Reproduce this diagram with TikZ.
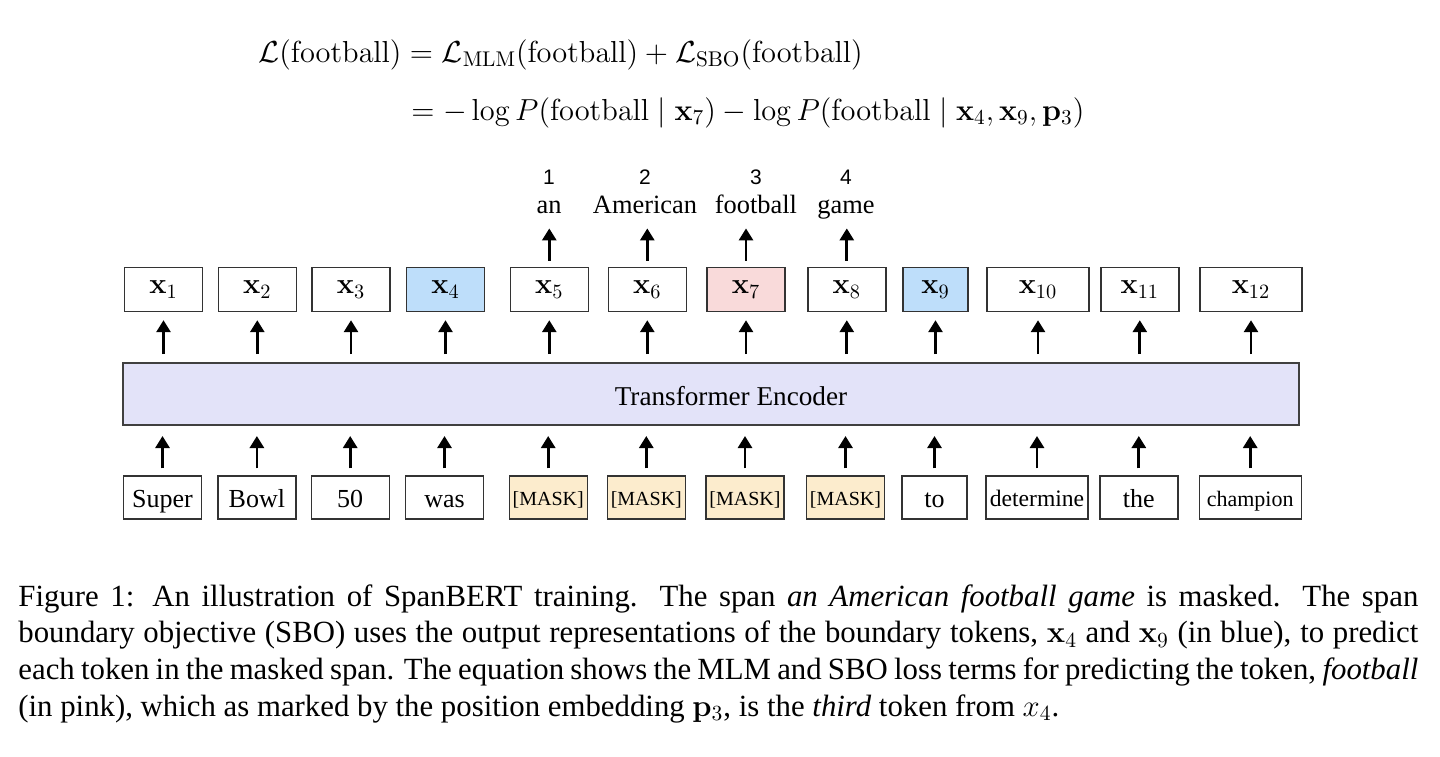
\RequirePackage{fix-cm}
\documentclass[tikz,border=0pt]{standalone}
\usepackage{amsmath}
\usepackage[no-math]{fontspec}
\setmainfont{Liberation Serif}
\newfontfamily\numfont{Liberation Sans}
\usetikzlibrary{arrows.meta,positioning}
\definecolor{bndblue}{RGB}{190,222,250}
\definecolor{tgtpink}{RGB}{249,218,218}
\definecolor{maskfill}{RGB}{252,236,205}
\definecolor{encfill}{RGB}{227,227,249}

\begin{document}
\begin{tikzpicture}[x=0.5pt, y=-0.5pt,
  vec/.style={draw=black!80, line width=0.7pt, minimum width=39pt, minimum height=22pt, inner sep=0pt, font=\fontsize{14.5}{16}\selectfont},
  tok/.style={draw=black!80, line width=0.7pt, minimum width=39pt, minimum height=21.5pt, inner sep=0pt, text height=11pt, text depth=1.5pt, font=\fontsize{13}{15}\selectfont},
  mask/.style={tok, fill=maskfill, text height=9pt, text depth=1.5pt, font=\fontsize{10}{12}\selectfont},
  wrd/.style={font=\fontsize{13.2}{15}\selectfont, inner sep=0pt, text height=9pt, text depth=3pt, anchor=base},
  num/.style={font=\fontsize{10.5}{12}\selectfont\numfont, inner sep=0pt},
  enc/.style={draw=black!75, line width=1pt, fill=encfill, minimum width=588pt, minimum height=31pt, inner sep=0pt},
  arr/.style={-{Triangle[width=7pt,length=6pt]}, line width=1.4pt}]
\useasboundingbox (0,0) rectangle (1440,756);

% loss equation
\node[anchor=base west, inner sep=0pt, font=\fontsize{15.2}{18}\selectfont] (eqtop) at (258,62)
  {$\mathcal{L}(\mathrm{football}) = \mathcal{L}_{\mathrm{MLM}}(\mathrm{football}) + \mathcal{L}_{\mathrm{SBO}}(\mathrm{football})$};
\node[anchor=base west, inner sep=0pt, font=\fontsize{15.2}{18}\selectfont] (eqbot) at (411,120)
  {$=-\log P(\mathrm{football}\mid \mathbf{x}_7) - \log P(\mathrm{football}\mid \mathbf{x}_4, \mathbf{x}_9, \mathbf{p}_3)$};

% predicted span
\node[wrd] (w1) at (549,213) {an};
\node[wrd] (w2) at (645,213) {American};
\node[wrd] (w3) at (756,213) {football};
\node[wrd] (w4) at (846,213) {game};
\node[num, above=5pt of w1] (n1) {1};
\node[num, above=5pt of w2] (n2) {2};
\node[num, above=5pt of w3] (n3) {3};
\node[num, above=5pt of w4] (n4) {4};

% output representations
\node[vec] (x1) at (163.5,289.5) {$\mathbf{x}_{1}$};
\node[vec] (x2) at (257.3,289.5) {$\mathbf{x}_{2}$};
\node[vec] (x3) at (351,289.5) {$\mathbf{x}_{3}$};
\node[vec, fill=bndblue] (x4) at (445.5,289.5) {$\mathbf{x}_{4}$};
\node[vec] (x5) at (549.3,289.5) {$\mathbf{x}_{5}$};
\node[vec] (x6) at (647.3,289.5) {$\mathbf{x}_{6}$};
\node[vec, fill=tgtpink] (x7) at (746,289.5) {$\mathbf{x}_{7}$};
\node[vec] (x8) at (846.8,289.5) {$\mathbf{x}_{8}$};
\node[vec, fill=bndblue, minimum width=32.5pt] (x9) at (935.5,289.5) {$\mathbf{x}_{9}$};
\node[vec, minimum width=51pt] (x10) at (1038,289.5) {$\mathbf{x}_{10}$};
\node[vec] (x11) at (1139.8,289.5) {$\mathbf{x}_{11}$};
\node[vec, minimum width=51pt] (x12) at (1251,289.5) {$\mathbf{x}_{12}$};

% encoder
\node[enc] (enc) at (711,394) {};
\node[font=\fontsize{13.6}{16}\selectfont] (enclab) at (731,396) {Transformer Encoder};

% input tokens
\node[tok] (t1) at (162.5,497.5) {Super};
\node[tok] (t2) at (256.9,497.5) {Bowl};
\node[tok] (t3) at (350.2,497.5) {50};
\node[tok] (t4) at (444.5,497.5) {was};
\node[mask] (t5) at (548.2,497.5) {[MASK]};
\node[mask] (t6) at (646.3,497.5) {[MASK]};
\node[mask] (t7) at (745,497.5) {[MASK]};
\node[mask] (t8) at (845.5,497.5) {[MASK]};
\node[tok, minimum width=32.5pt] (t9) at (934.5,497.5) {to};
\node[tok, minimum width=51pt, text height=10pt, font=\fontsize{11.8}{14}\selectfont] (t10) at (1037,497.5) {determine};
\node[tok] (t11) at (1138.8,497.5) {the};
\node[tok, minimum width=51pt, text height=10pt, font=\fontsize{11}{13}\selectfont] (t12) at (1250.2,497.5) {champion};

% tokens -> encoder
\draw[arr, shorten <=3.5pt, shorten >=5pt] (t1) -- (t1 |- enc.south);
\draw[arr, shorten <=3.5pt, shorten >=5pt] (t2) -- (t2 |- enc.south);
\draw[arr, shorten <=3.5pt, shorten >=5pt] (t3) -- (t3 |- enc.south);
\draw[arr, shorten <=3.5pt, shorten >=5pt] (t4) -- (t4 |- enc.south);
\draw[arr, shorten <=3.5pt, shorten >=5pt] (t5) -- (t5 |- enc.south);
\draw[arr, shorten <=3.5pt, shorten >=5pt] (t6) -- (t6 |- enc.south);
\draw[arr, shorten <=3.5pt, shorten >=5pt] (t7) -- (t7 |- enc.south);
\draw[arr, shorten <=3.5pt, shorten >=5pt] (t8) -- (t8 |- enc.south);
\draw[arr, shorten <=3.5pt, shorten >=5pt] (t9) -- (t9 |- enc.south);
\draw[arr, shorten <=3.5pt, shorten >=5pt] (t10) -- (t10 |- enc.south);
\draw[arr, shorten <=3.5pt, shorten >=5pt] (t11) -- (t11 |- enc.south);
\draw[arr, shorten <=3.5pt, shorten >=5pt] (t12) -- (t12 |- enc.south);

% encoder -> outputs
\draw[arr, shorten <=4pt, shorten >=4pt] (enc.north -| x1) -- (x1);
\draw[arr, shorten <=4pt, shorten >=4pt] (enc.north -| x2) -- (x2);
\draw[arr, shorten <=4pt, shorten >=4pt] (enc.north -| x3) -- (x3);
\draw[arr, shorten <=4pt, shorten >=4pt] (enc.north -| x4) -- (x4);
\draw[arr, shorten <=4pt, shorten >=4pt] (enc.north -| x5) -- (x5);
\draw[arr, shorten <=4pt, shorten >=4pt] (enc.north -| x6) -- (x6);
\draw[arr, shorten <=4pt, shorten >=4pt] (enc.north -| x7) -- (x7);
\draw[arr, shorten <=4pt, shorten >=4pt] (enc.north -| x8) -- (x8);
\draw[arr, shorten <=4pt, shorten >=4pt] (enc.north -| x9) -- (x9);
\draw[arr, shorten <=4pt, shorten >=4pt] (enc.north -| x10) -- (x10);
\draw[arr, shorten <=4pt, shorten >=4pt] (enc.north -| x11) -- (x11);
\draw[arr, shorten <=4pt, shorten >=4pt] (enc.north -| x12) -- (x12);

% outputs -> span words
\draw[arr, shorten <=3pt, shorten >=4.5pt] (x5) -- (x5 |- w1.south);
\draw[arr, shorten <=3pt, shorten >=4.5pt] (x6) -- (x6 |- w2.south);
\draw[arr, shorten <=3pt, shorten >=4.5pt] (x7) -- (x7 |- w3.south);
\draw[arr, shorten <=3pt, shorten >=4.5pt] (x8) -- (x8 |- w4.south);

% caption
\node[anchor=north west, inner sep=0pt, text width=700pt, align=justify, font=\fontsize{15.4}{18.35}\selectfont] (cap) at (18,584)
  {Figure 1: An illustration of SpanBERT training. The span \emph{an American football game} is masked. The span\linebreak
   boundary objective (SBO) uses the output representations of the boundary tokens, $\mathbf{x}_4$ and $\mathbf{x}_9$ (in blue), to predict\linebreak
   each token in the masked span. The equation shows the MLM and SBO loss terms for predicting the token, \emph{football}\linebreak
   (in pink), which as marked by the position embedding $\mathbf{p}_3$, is the \emph{third} token from $x_4$.};
\end{tikzpicture}
\end{document}
